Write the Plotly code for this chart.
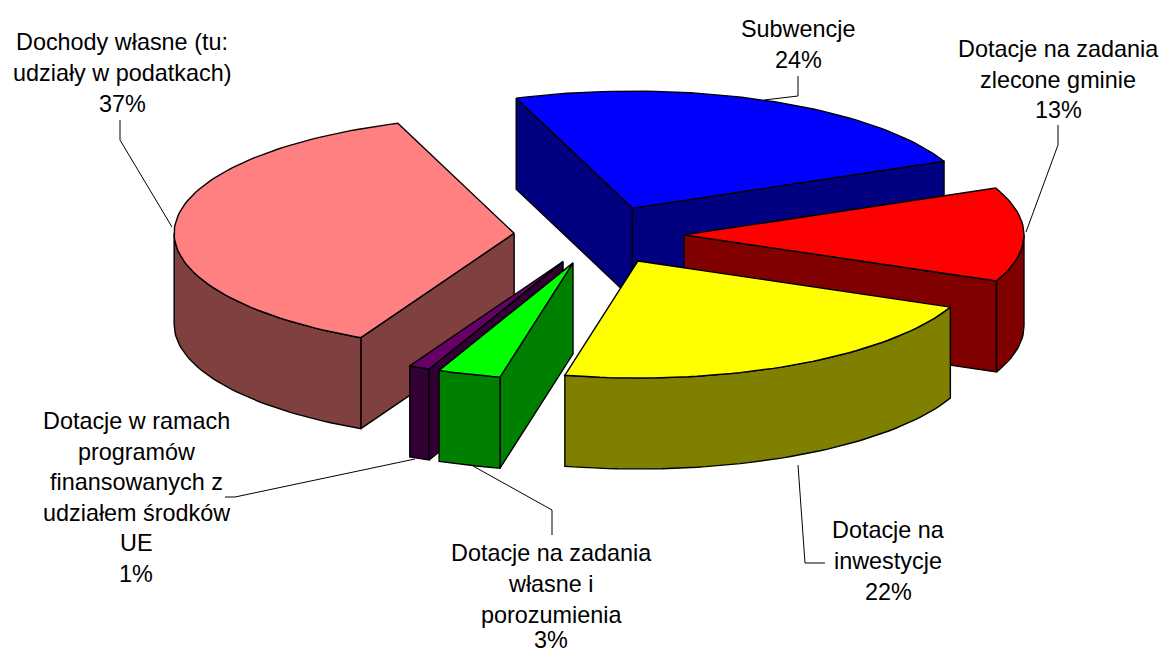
import math
import plotly.graph_objects as go

categories = ["Dochody własne (tu: udziały w podatkach)", "Subwencje", "Dotacje na zadania zlecone gminie",
              "Dotacje na inwestycje", "Dotacje na zadania własne i porozumienia",
              "Dotacje w ramach programów finansowanych z udziałem środków UE"]
values = [37, 24, 13, 22, 3, 1]
top_colors = ["#FF8080", "#0000FF", "#FF0000", "#FFFF00", "#00FF00", "#660066"]
side_colors = ["#804040", "#000080", "#800000", "#808000", "#008000", "#330033"]

# Geometry of the projected pie (pixels of the 1165x655 frame)
CX, CY, RX, RY, DEPTH, EXPLODE = 599, 235, 340, 117, 91, 85
FIRST_ANGLE = 206.8
DRAW_ORDER = [1, 2, 3, 0, 5, 4]

label_lines = [
    (122, [(42, "Dochody własne (tu:"), (73, "udziały w podatkach)"), (104, "37%")]),
    (798, [(29, "Subwencje"), (60, "24%")]),
    (1058, [(49, "Dotacje na zadania"), (80, "zlecone gminie"), (110, "13%")]),
    (888, [(530, "Dotacje na"), (561, "inwestycje"), (592, "22%")]),
    (551, [(553, "Dotacje na zadania"), (584, "własne i"), (615, "porozumienia"), (640, "3%")]),
    (136, [(421, "Dotacje w ramach"), (452, "programów"), (482, "finansowanych z"),
           (513, "udziałem środków"), (543, "UE"), (574, "1%")]),
]
leaders = [
    ([120, 120, 172], [120, 140, 227]),
    ([798, 798, 764], [76, 96, 100]),
    ([1058, 1058, 1026], [125, 145, 232]),
    ([798, 805, 825], [465, 563, 563]),
    ([552, 552, 473], [535, 510, 466]),
    ([225, 235, 415], [497, 497, 459]),
]


def rim(ax, ay, deg):
    t = math.radians(deg)
    return ax + RX * math.sin(t), ay - RY * math.cos(t)


def arc(ax, ay, a, b, dy=0):
    n = max(2, int(abs(b - a) / 1.5) + 2)
    pts = [rim(ax, ay, a + (b - a) * i / (n - 1)) for i in range(n)]
    return [(x, y + dy) for x, y in pts]


def poly(fig, pts, fill):
    xs = [p[0] for p in pts] + [pts[0][0]]
    ys = [p[1] for p in pts] + [pts[0][1]]
    fig.add_trace(go.Scatter(x=xs, y=ys, mode="lines", fill="toself", fillcolor=fill,
                             line=dict(color="#000000", width=1.4), hoverinfo="skip", showlegend=False))


fig = go.Figure()

spans = []
angle = FIRST_ANGLE
for v in values:
    end = angle + v * 3.6
    spans.append((angle, end))
    angle = end

for i in DRAW_ORDER:
    a, b = spans[i]
    mid = math.radians((a + b) / 2)
    ax = CX + EXPLODE * math.sin(mid)
    ay = CY - EXPLODE * RY / RX * math.cos(mid)
    side, top = side_colors[i], top_colors[i]
    # cut faces that look toward the viewer
    for edge, visible in ((a, math.sin(math.radians(a)) < 0), (b, math.sin(math.radians(b)) > 0)):
        if visible:
            ex, ey = rim(ax, ay, edge)
            poly(fig, [(ax, ay), (ex, ey), (ex, ey + DEPTH), (ax, ay + DEPTH)], side)
    # outer wall: the part of the rim on the near half of the ellipse
    for k in (0, 360):
        lo, hi = max(a, 90 + k), min(b, 270 + k)
        if lo < hi:
            poly(fig, arc(ax, ay, lo, hi) + arc(ax, ay, hi, lo, DEPTH), side)
    poly(fig, [(ax, ay)] + arc(ax, ay, a, b), top)

for xs, ys in leaders:
    fig.add_trace(go.Scatter(x=xs, y=ys, mode="lines", line=dict(color="#000000", width=1),
                             hoverinfo="skip", showlegend=False))

for x, lines in label_lines:
    for y, text in lines:
        fig.add_annotation(x=x, y=y, text=text, showarrow=False, xanchor="center", yanchor="middle",
                           font=dict(family="Liberation Sans", size=23.4, color="#000000"))

fig.update_layout(width=1165, height=655, margin=dict(l=0, r=0, t=0, b=0), paper_bgcolor="#FFFFFF",
                  plot_bgcolor="#FFFFFF", showlegend=False,
                  xaxis=dict(range=[0, 1165], visible=False, fixedrange=True),
                  yaxis=dict(range=[655, 0], visible=False, fixedrange=True))
fig.write_html("out.html", config=dict(displayModeBar=False),
               post_script="document.body.style.margin='0';document.documentElement.style.overflow='hidden';")
